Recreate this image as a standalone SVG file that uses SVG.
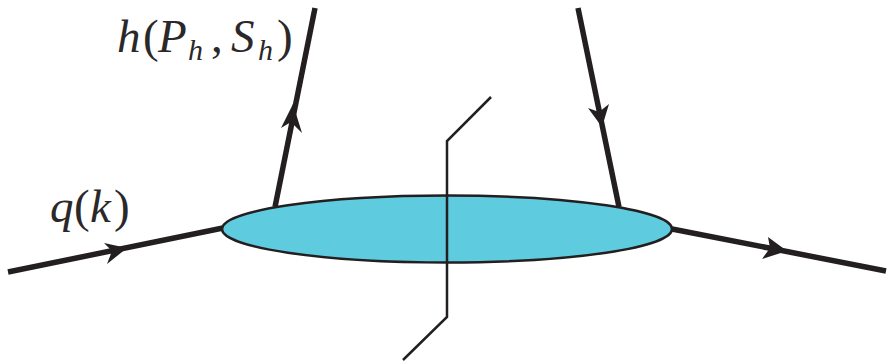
<svg xmlns="http://www.w3.org/2000/svg" width="887" height="361" viewBox="0 0 887 361">
<style>
.q{stroke:#231f20;stroke-width:5.500;fill:none}
.a{fill:#231f20;stroke:none}
.t{font-family:"Liberation Serif",serif;font-size:47px;fill:#2b2829}
.i{font-style:italic}
.s{font-size:30px}
</style>
<rect width="887" height="361" fill="#fff"/>
<g id="connectors">
<path class="q" d="M8 272L223 228"/>
<path class="q" d="M275 207L315 8"/>
<path class="q" d="M578 8L619 207"/>
<path class="q" d="M672 229L886 271"/>
<path class="a" d="M127 248L104 243L112 251L107 264Z"/>
<path class="a" d="M293 104L281 128L291 122L302 133Z"/>
<path class="a" d="M602 127L588 108L599 112L609 104Z"/>
<path class="a" d="M787 251L768 237L770 248L762 259Z"/>
</g>
<g id="blob"><ellipse cx="447" cy="229" rx="225" ry="33.500" fill="#5ecbdf" stroke="#231f20" stroke-width="2.500"/></g>
<g id="cut"><path d="M491 97L447 141V317L403 360" fill="none" stroke="#231f20" stroke-width="2.500"/></g>
<g id="label-h"><text class="t" y="52"><tspan class="i" x="117">h</tspan><tspan x="143">(</tspan><tspan class="i" x="158">P</tspan><tspan class="i s" x="188" y="60">h</tspan><tspan x="211" y="52">,</tspan><tspan class="i" x="231">S</tspan><tspan class="i s" x="258" y="60">h</tspan><tspan x="277" y="52">)</tspan></text></g>
<g id="label-q"><text class="t" y="222"><tspan class="i" x="50">q</tspan><tspan x="74">(</tspan><tspan class="i" x="90">k</tspan><tspan x="114">)</tspan></text></g>
</svg>
